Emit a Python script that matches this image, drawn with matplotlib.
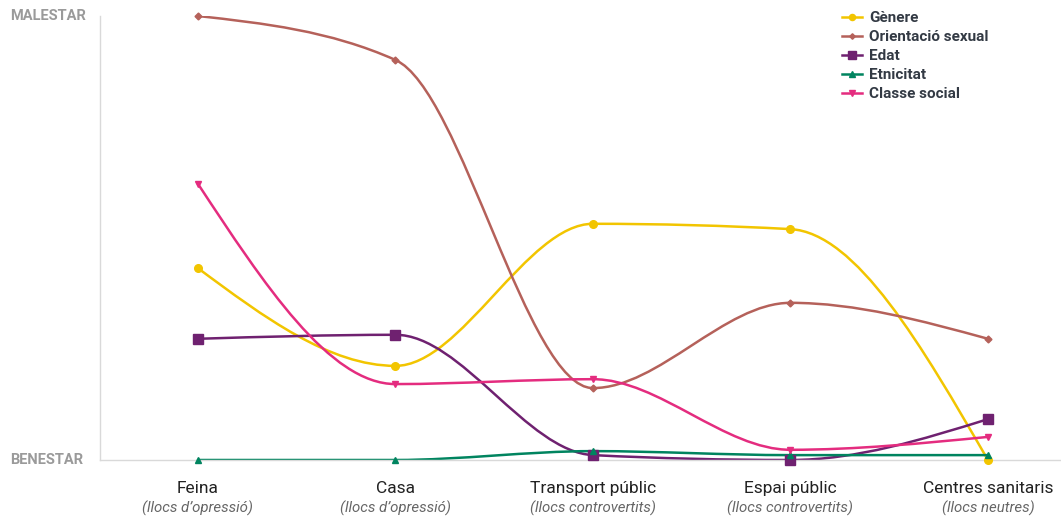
import matplotlib
matplotlib.use("Agg")
import matplotlib.pyplot as plt
from matplotlib.path import Path
from matplotlib.patches import PathPatch
from matplotlib.lines import Line2D
import matplotlib.transforms as mtransforms
import numpy as np

plt.rcParams['font.family'] = ['Roboto', 'DejaVu Sans']

# data
categories = ["Feina", "Casa", "Transport públic", "Espai públic", "Centres sanitaris"]
subtitles = ["(llocs d’opressió)", "(llocs d’opressió)", "(llocs controvertits)",
             "(llocs controvertits)", "(llocs neutres)"]
series_names = ["Gènere", "Orientació sexual", "Edat", "Etnicitat", "Classe social"]
genere = [43.2, 21.2, 53.2, 52.0, 0.0]
orientacio = [100.0, 90.1, 16.2, 35.4, 27.3]
edat = [27.3, 28.2, 1.1, 0.0, 9.2]
etnicitat = [0.0, 0.0, 2.0, 1.1, 1.1]
classe = [62.2, 17.1, 18.2, 2.3, 5.2]
y_labels = ["BENESTAR", "MALESTAR"]

colors = ["#f2c500", "#b5615a", "#6f2170", "#00845f", "#e42c7f"]
markers = ["o", "D", "s", "^", "v"]
msizes = [5.5, 3.5, 6.5, 5, 5]


def monotone_path(x, y):
    # same curve as d3.curveMonotoneX, drawn as cubic bezier segments
    x = np.asarray(x, float)
    y = np.asarray(y, float)
    n = len(x)
    t = np.zeros(n)
    for i in range(1, n - 1):
        h0 = x[i] - x[i - 1]
        h1 = x[i + 1] - x[i]
        s0 = (y[i] - y[i - 1]) / h0
        s1 = (y[i + 1] - y[i]) / h1
        p = (s0 * h1 + s1 * h0) / (h0 + h1)
        t[i] = (np.sign(s0) + np.sign(s1)) * min(abs(s0), abs(s1), 0.5 * abs(p))
    t[0] = (3 * (y[1] - y[0]) / (x[1] - x[0]) - t[1]) / 2
    t[-1] = (3 * (y[-1] - y[-2]) / (x[-1] - x[-2]) - t[-2]) / 2
    verts = [(x[0], y[0])]
    codes = [Path.MOVETO]
    for i in range(n - 1):
        dx = (x[i + 1] - x[i]) / 3
        verts += [(x[i] + dx, y[i] + dx * t[i]),
                  (x[i + 1] - dx, y[i + 1] - dx * t[i + 1]),
                  (x[i + 1], y[i + 1])]
        codes += [Path.CURVE4] * 3
    return Path(verts, codes)


fig = plt.figure(figsize=(10.61, 5.17), dpi=100)
ax = fig.add_axes([100 / 1061, 57 / 517, 961 / 1061, 444 / 517])

xs = np.arange(len(categories))
all_series = [genere, orientacio, edat, etnicitat, classe]
handles = []
for vals, col, mk, ms, name in zip(all_series, colors, markers, msizes, series_names):
    ax.add_patch(PathPatch(monotone_path(xs, vals), fill=False, edgecolor=col, lw=1.8,
                           capstyle='round', joinstyle='round'))
    ax.plot(xs, vals, linestyle='none', marker=mk, markersize=ms, color=col, zorder=3,
            clip_on=False)
    handles.append(Line2D([0], [0], color=col, lw=1.8, marker=mk, markersize=ms * 0.8))

ax.set_xlim(-0.496, 4.37)
ax.set_ylim(0, 100)

for s in ["top", "right"]:
    ax.spines[s].set_visible(False)
ax.spines["left"].set_color("#d9d9d9")
ax.spines["bottom"].set_color("#d9d9d9")
ax.spines["left"].set_linewidth(1)
ax.spines["bottom"].set_linewidth(1)

ax.set_xticks([])
ax.set_yticks([])
# y labels at the two ends of the scale
ytrans = mtransforms.blended_transform_factory(fig.transFigure, ax.transData)
for v, lab in zip([0, 100], y_labels):
    ax.text(10 / 1061, v, lab, transform=ytrans, ha='left', va='center', fontsize=10.5,
            fontweight='bold', color="#9a9a9a")

trans = mtransforms.blended_transform_factory(ax.transData, ax.transAxes)
for i, (c, s) in enumerate(zip(categories, subtitles)):
    ax.text(i, -0.065, c, transform=trans, ha='center', va='center', fontsize=12.5,
            color="#222222")
    ax.text(i, -0.11, s, transform=trans, ha='center', va='center', fontsize=10.8,
            color="#666666", style='italic')

leg = ax.legend(handles, series_names, loc='upper left', bbox_to_anchor=(728 / 961, 1.042),
                frameon=False, handlelength=1.3, handletextpad=0.5, labelspacing=0.33,
                prop={'size': 11, 'weight': 'bold'})
for txt in leg.get_texts():
    txt.set_color("#333a44")

plt.savefig("out.png", dpi=100)
